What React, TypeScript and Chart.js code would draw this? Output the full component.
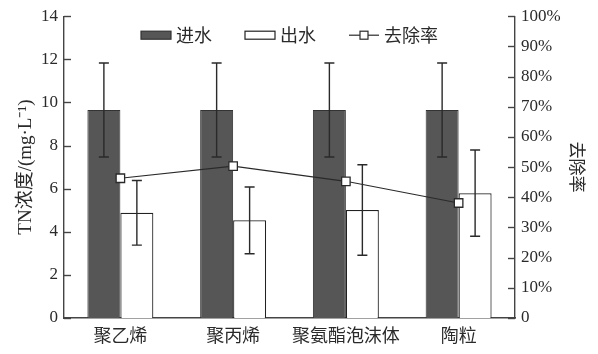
import React, { useEffect, useRef } from 'react';
import { Chart, registerables } from 'chart.js';

Chart.register(...registerables);

const categories = ['聚乙烯', '聚丙烯', '聚氨酯泡沫体', '陶粒'];
const inflow = [9.65, 9.65, 9.65, 9.65];
const inflowErr = [2.18, 2.18, 2.18, 2.18];
const outflow = [4.88, 4.53, 5.01, 5.79];
const outflowErr = [1.5, 1.55, 2.1, 2.0];
const removal = [46.3, 50.3, 45.3, 38.1];
const seriesNames = ['进水', '出水', '去除率'];
const leftTitle = 'TN浓度/(mg·L⁻¹)';
const rightTitle = '去除率';

const SERIF = "'Liberation Serif', 'Noto Sans CJK SC', serif";
const INK = '#2a2a2a';

const errorBarPlugin = {
  id: 'errorBars',
  afterDatasetDraw(chart: any, args: any) {
    const ds = chart.data.datasets[args.index];
    if (!ds.errors) return;
    const ctx = chart.ctx;
    const y = chart.scales[ds.yAxisID || 'y'];
    const meta = chart.getDatasetMeta(args.index);
    ctx.save();
    ctx.strokeStyle = ds.errorColor || INK;
    ctx.lineWidth = 1.4;
    meta.data.forEach((el: any, i: number) => {
      const v = ds.data[i];
      const e = ds.errors[i];
      const yt = y.getPixelForValue(v + e);
      const yb = y.getPixelForValue(v - e);
      const x = el.x;
      ctx.beginPath();
      ctx.moveTo(x, yt);
      ctx.lineTo(x, yb);
      ctx.moveTo(x - 5, yt);
      ctx.lineTo(x + 5, yt);
      ctx.moveTo(x - 5, yb);
      ctx.lineTo(x + 5, yb);
      ctx.stroke();
    });
    ctx.restore();
  },
};

const innerTicksPlugin = {
  id: 'innerTicks',
  afterDraw(chart: any) {
    const ctx = chart.ctx;
    const { left, right } = chart.chartArea;
    ctx.save();
    ctx.strokeStyle = '#444';
    ctx.lineWidth = 1.4;
    const yl = chart.scales.y;
    yl.ticks.forEach((t: any) => {
      const py = Math.round(yl.getPixelForValue(t.value)) + 0.5;
      ctx.beginPath();
      ctx.moveTo(left, py);
      ctx.lineTo(left + 7, py);
      ctx.stroke();
    });
    const yr = chart.scales.y1;
    yr.ticks.forEach((t: any) => {
      const py = Math.round(yr.getPixelForValue(t.value)) + 0.5;
      ctx.beginPath();
      ctx.moveTo(right, py);
      ctx.lineTo(right - 7, py);
      ctx.stroke();
    });
    ctx.restore();
  },
};

const legendPlugin = {
  id: 'insideLegend',
  afterDraw(chart: any) {
    const ctx = chart.ctx;
    const { left, right, top } = chart.chartArea;
    ctx.save();
    ctx.font = "18px 'Noto Sans CJK SC'";
    ctx.textBaseline = 'middle';
    const sym = 30;
    const gapSym = 5;
    const gapItem = 33;
    const items = seriesNames.map((n) => chart.data.datasets.find((d: any) => d.label === n));
    const widths = seriesNames.map((n) => ctx.measureText(n).width);
    const total =
      widths.reduce((a, b) => a + b, 0) + seriesNames.length * (sym + gapSym) + gapItem * (seriesNames.length - 1);
    let x = (left + right) / 2 - total / 2;
    const cy = top + 19;
    items.forEach((ds: any, i: number) => {
      if (ds.type === 'line') {
        ctx.strokeStyle = INK;
        ctx.lineWidth = 1.2;
        ctx.beginPath();
        ctx.moveTo(x, cy);
        ctx.lineTo(x + sym, cy);
        ctx.stroke();
        ctx.fillStyle = '#fff';
        ctx.fillRect(x + sym / 2 - 4, cy - 4, 8, 8);
        ctx.strokeRect(x + sym / 2 - 4, cy - 4, 8, 8);
      } else {
        ctx.fillStyle = ds.backgroundColor;
        ctx.strokeStyle = ds.borderColor;
        ctx.lineWidth = 1.2;
        ctx.fillRect(x, cy - 4, sym, 8);
        ctx.strokeRect(x, cy - 4, sym, 8);
      }
      x += sym + gapSym;
      ctx.fillStyle = INK;
      ctx.fillText(ds.label, x, cy);
      x += widths[i] + gapItem;
    });
    ctx.restore();
  },
};

export default function App() {
  const ref = useRef<HTMLCanvasElement | null>(null);
  useEffect(() => {
    document.body.style.margin = '0';
    const canvas = ref.current;
    if (!canvas) return;
    const chart = new Chart(canvas, {
      type: 'bar',
      data: {
        labels: categories,
        datasets: [
          {
            type: 'bar',
            label: seriesNames[0],
            data: inflow,
            errors: inflowErr,
            yAxisID: 'y',
            backgroundColor: '#565656',
            borderColor: '#333',
            borderWidth: 1,
            order: 1,
          } as any,
          {
            type: 'bar',
            label: seriesNames[1],
            data: outflow,
            errors: outflowErr,
            yAxisID: 'y',
            backgroundColor: '#ffffff',
            borderColor: '#222',
            borderWidth: 1.2,
            order: 1,
          } as any,
          {
            type: 'line',
            label: seriesNames[2],
            data: removal,
            yAxisID: 'y1',
            borderColor: INK,
            borderWidth: 1.2,
            pointStyle: 'rect',
            pointRadius: 6,
            pointBackgroundColor: '#fff',
            pointBorderColor: INK,
            pointBorderWidth: 1.3,
            order: 0,
          } as any,
        ],
      },
      options: {
        responsive: false,
        animation: false,
        layout: { padding: { top: 13, left: 0, right: 0, bottom: 0 } },
        datasets: { bar: { categoryPercentage: 0.585, barPercentage: 1 } },
        plugins: { legend: { display: false }, tooltip: { enabled: false } },
        scales: {
          x: {
            offset: true,
            grid: { display: false, drawTicks: false },
            border: { display: true, color: '#444', width: 1.4 },
            ticks: {
              color: INK,
              padding: 6,
              autoSkip: false,
              maxRotation: 0,
              minRotation: 0,
              font: { family: "'Noto Sans CJK SC'", size: 18 },
            },
            afterFit: (s: any) => {
              s.height = 36;
            },
          },
          y: {
            position: 'left',
            min: 0,
            max: 14,
            ticks: { stepSize: 2, color: INK, padding: 6, font: { family: SERIF, size: 17 } },
            grid: { display: false, drawTicks: false },
            border: { display: true, color: '#444', width: 1.4 },
            title: {
              display: true,
              text: leftTitle,
              color: INK,
              font: { family: SERIF, size: 19 },
              padding: { top: 15, bottom: 0 },
            },
            afterFit: (s: any) => {
              s.width = 64;
            },
          },
          y1: {
            position: 'right',
            min: 0,
            max: 100,
            ticks: {
              stepSize: 10,
              color: INK,
              padding: 6,
              font: { family: SERIF, size: 17 },
              callback: (v: any) => (v === 0 ? '0' : v + '%'),
            },
            grid: { display: false, drawTicks: false },
            border: { display: true, color: '#444', width: 1.4 },
            title: {
              display: true,
              text: rightTitle,
              color: INK,
              font: { family: "'Noto Sans CJK SC'", size: 17 },
              padding: { top: 10, bottom: 0 },
            },
            afterFit: (s: any) => {
              s.width = 83;
            },
          },
        },
      },
      plugins: [errorBarPlugin, innerTicksPlugin, legendPlugin],
    });
    return () => chart.destroy();
  }, []);
  return <canvas ref={ref} width={598} height={354} style={{ display: 'block' }} />;
}
